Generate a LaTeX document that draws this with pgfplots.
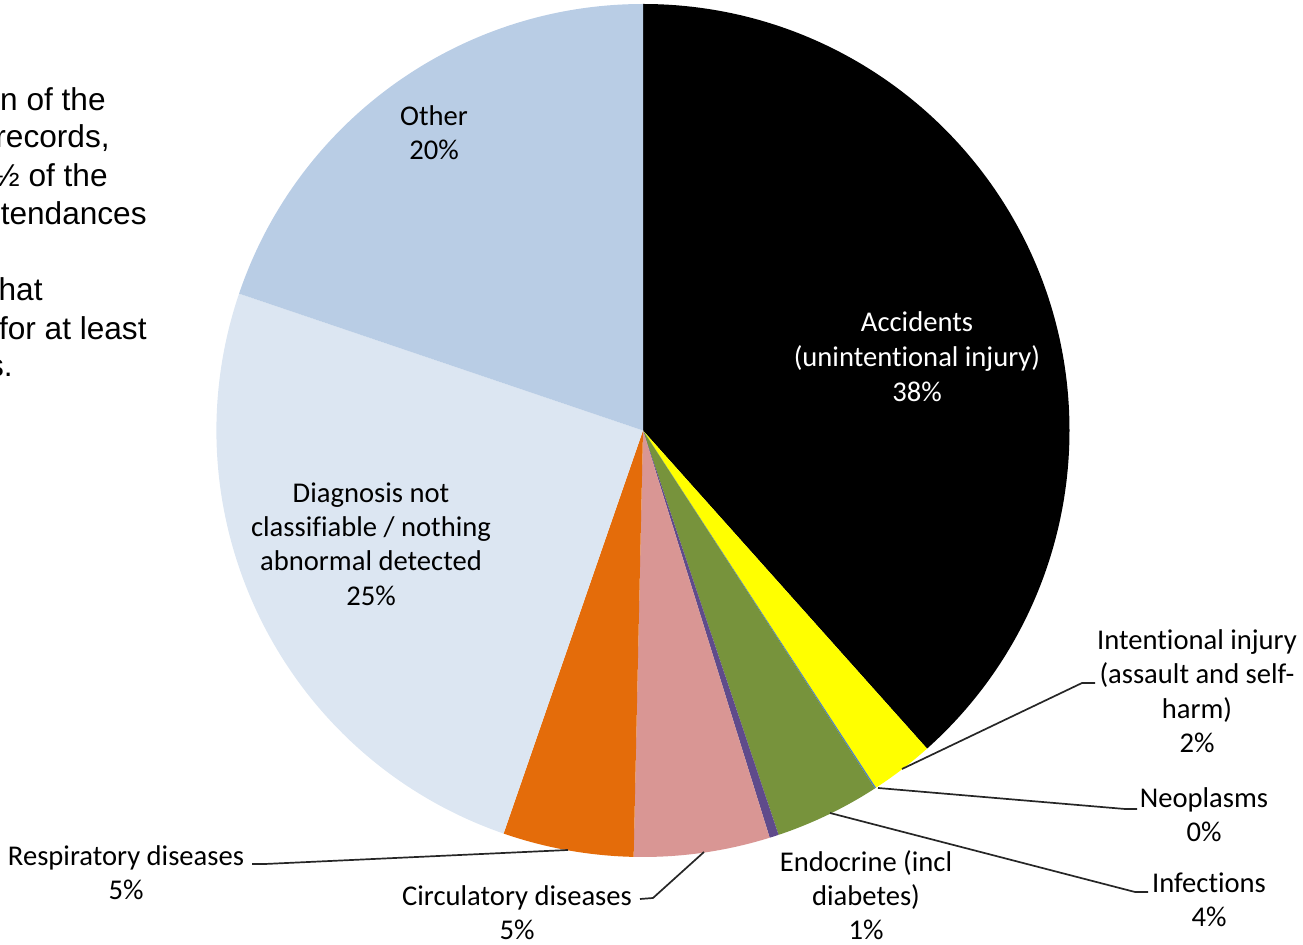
\documentclass[border=0pt]{standalone}
\usepackage{pgfplots}
\pgfplotsset{compat=1.18}
\usepackage{pgfplotstable}
\usepackage{fontspec}
\setmainfont{Carlito}[Ligatures={NoCommon}]
\newfontfamily\arialf{Liberation Sans}
\definecolor{cAcc}{HTML}{000000}
\definecolor{cInt}{HTML}{FFFF00}
\definecolor{cNeo}{HTML}{4F81BD}
\definecolor{cInf}{HTML}{77933C}
\definecolor{cEnd}{HTML}{5F4B8B}
\definecolor{cCir}{HTML}{D99694}
\definecolor{cRes}{HTML}{E46C0A}
\definecolor{cDia}{HTML}{DCE6F2}
\definecolor{cOth}{HTML}{B9CDE5}
\pgfplotstableread{
label value col
Accidents 38.4 cAcc
Intentional 2.4 cInt
Neoplasms 0.05 cNeo
Infections 4.0 cInf
Endocrine 0.35 cEnd
Circulatory 5.15 cCir
Respiratory 4.95 cRes
Diagnosis 24.9 cDia
Other 19.8 cOth
}\piedata
\newcommand{\lbl}[3]{\node[anchor=base, inner sep=0pt, font=\fontsize{14.3}{17}\selectfont] at (axis cs:#1,#2) {#3};}
\newcommand{\wlbl}[3]{\node[anchor=base, inner sep=0pt, font=\fontsize{14.3}{17}\selectfont, text=white] at (axis cs:#1,#2) {#3};}
\newcommand{\ltxt}[3]{\node[anchor=base east, inner sep=0pt, font=\arialf\fontsize{15.8}{19}\selectfont] at (axis cs:#1,#2) {#3};}
\begin{document}
\begin{tikzpicture}
\begin{axis}[name=ax, x=0.5pt, y=0.5pt, xmin=0, xmax=1303, ymin=0, ymax=945,
  y dir=reverse, hide axis, clip=false]
\pgfplotstablegetrowsof{\piedata}
\pgfmathtruncatemacro\nrows{\pgfplotsretval-1}
\gdef\cum{0}
\pgfplotsforeachungrouped \i in {0,...,\nrows}{%
  \pgfplotstablegetelem{\i}{value}\of\piedata \let\sliceval\pgfplotsretval
  \pgfplotstablegetelem{\i}{col}\of\piedata \let\slicecol\pgfplotsretval
  \pgfmathsetmacro\aone{90-3.6*\cum}%
  \pgfmathsetmacro\cum{\cum+\sliceval}%
  \pgfmathsetmacro\atwo{90-3.6*\cum}%
  \edef\temp{\noexpand\fill[\slicecol] (axis cs:643,430.5) -- ++(\aone:213.25pt) arc[start angle=\aone, end angle=\atwo, radius=213.25pt] -- cycle;}%
  \temp
}
% leader lines
\draw[line width=0.85pt, black!85] (axis cs:252,864) -- (axis cs:265,864) -- (axis cs:568,850);
\draw[line width=0.85pt, black!85] (axis cs:640,899) -- (axis cs:653,898) -- (axis cs:704,852);
\draw[line width=0.85pt, black!85] (axis cs:902,769) -- (axis cs:1082,683) -- (axis cs:1095,683);
\draw[line width=0.85pt, black!85] (axis cs:878,788) -- (axis cs:1125,809) -- (axis cs:1137,809);
\draw[line width=0.85pt, black!85] (axis cs:830,813) -- (axis cs:1135,892) -- (axis cs:1148,892);
% slice labels
\lbl{434}{126}{Other}
\lbl{434}{160}{20\%}
\wlbl{917}{332}{Accidents}
\wlbl{917}{367}{(unintentional injury)}
\wlbl{917}{402}{38\%}
\lbl{371}{503}{Diagnosis not}
\lbl{371}{537}{classifiable / nothing}
\lbl{371}{571}{abnormal detected}
\lbl{371}{606}{25\%}
\lbl{1197}{650}{Intentional injury}
\lbl{1197}{684}{(assault and self-}
\lbl{1197}{719}{harm)}
\lbl{1197}{753}{2\%}
\lbl{1204}{808}{Neoplasms}
\lbl{1204}{842}{0\%}
\lbl{1209}{893}{Infections}
\lbl{1209}{927}{4\%}
\lbl{866}{872}{Endocrine (incl}
\lbl{866}{906}{diabetes)}
\lbl{866}{940}{1\%}
\lbl{517}{906}{Circulatory diseases}
\lbl{517}{940}{5\%}
\lbl{126}{866}{Respiratory diseases}
\lbl{126}{900}{5\%}
% text box cut off at the left edge, as in the reference
\ltxt{106}{111}{rn of the}
\ltxt{110}{148}{records,}
\ltxt{108}{187}{1½ of the}
\ltxt{147}{225}{tendances}
\ltxt{43}{301}{hat}
\ltxt{147}{340}{for at least}
\ltxt{13}{377}{s.}
\end{axis}
\pgfresetboundingbox
\path (ax.south west) rectangle (ax.north east);
\end{tikzpicture}
\end{document}
